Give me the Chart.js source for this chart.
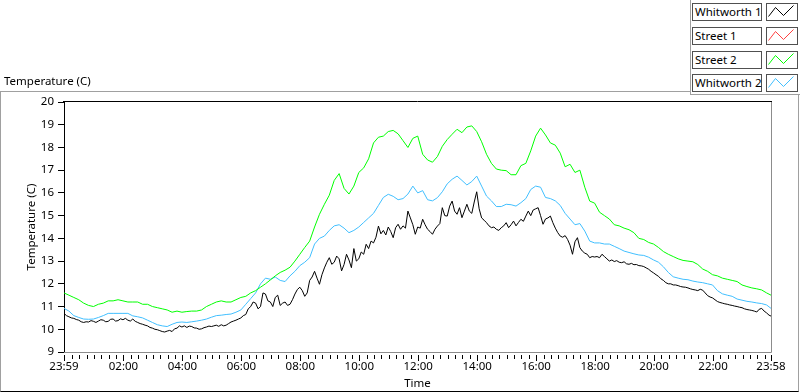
<!DOCTYPE html>
<html>
<head>
    <title>Temperature (C)</title>
    <script src="https://cdn.jsdelivr.net/npm/chart.js"></script>
    <style>
        body { margin: 0; background: #fff; font-family: 'Noto Sans', sans-serif; }
        #wrap { position: relative; width: 800px; height: 392px; overflow: hidden; }
        #panel { position: absolute; left: 0; top: 91px; width: 797px; height: 299px;
                 border-left: 1px solid #a0a0a0; border-top: 1px solid #a0a0a0;
                 border-right: 1px solid #a0a0a0; border-bottom: 1px solid #000; }
        #chart { position: absolute; left: 0; top: 0; }
        #legendPanel { position: absolute; left: 690px; top: 0; width: 110px; height: 95px; background: #fff;
                       border-left: 1px solid #a0a0a0; border-bottom: 1px solid #a0a0a0; box-sizing: border-box; }
        .name { position: absolute; left: 692px; width: 70px; height: 18px; box-sizing: border-box;
                border: 1px solid #505050; font-size: 11.5px; line-height: 16px; padding-left: 2px; color: #000; white-space: nowrap; }
        .glyph { position: absolute; left: 766px; width: 32px; height: 18px; box-sizing: border-box;
                 border: 1px solid #505050; background: #fff; }
        .glyph svg { position: absolute; left: 0; top: 0; }
        #title { position: absolute; left: 4px; top: 73px; font-size: 11.5px; color: #000; }
    </style>
</head>
<body>
<div id="wrap">
    <div id="panel"></div>
    <canvas id="chart" width="800" height="392"></canvas>
    <div id="legendPanel"></div>
    <div id="legend"></div>
    <div id="title">Temperature (C)</div>
</div>

<script>
    // logged readings, first one at 23:59
    var stepWhitworth1 = 5;   // minutes between readings
    var stepOthers = 10;
    var seriesNames = ['Whitworth 1', 'Street 1', 'Street 2', 'Whitworth 2'];
    var xTickLabels = ['23:59', '02:00', '04:00', '06:00', '08:00', '10:00', '12:00',
                       '14:00', '16:00', '18:00', '20:00', '22:00', '23:58'];

    var whitworth1 = [
        10.7, 10.6, 10.55, 10.5, 10.48, 10.43, 10.4, 10.33, 10.3, 10.33, 10.32, 10.38,
        10.35, 10.3, 10.36, 10.42, 10.4, 10.33, 10.35, 10.44, 10.45, 10.36, 10.38, 10.46,
        10.42, 10.48, 10.4, 10.36, 10.45, 10.35, 10.3, 10.25, 10.22, 10.18, 10.15, 10.08,
        10.05, 10.0, 9.98, 9.94, 9.9, 9.88, 9.92, 9.95, 9.9, 10.02, 10.05, 10.15,
        10.1, 10.15, 10.08, 10.14, 10.12, 10.06, 10.05, 10.0, 10.02, 10.07, 10.1, 10.14,
        10.12, 10.15, 10.18, 10.13, 10.2, 10.15, 10.18, 10.25, 10.32, 10.36, 10.4, 10.45,
        10.5, 10.6, 10.65, 10.9, 11.0, 11.2, 11.15, 10.9, 11.0, 11.6, 11.55, 11.25,
        11.2, 11.0, 11.4, 11.5, 11.05, 11.15, 11.2, 11.05, 11.1, 11.3, 11.55, 11.75,
        11.85, 11.7, 11.45, 11.6, 12.15, 12.3, 12.55, 12.25, 11.98, 12.4, 12.7, 12.95,
        13.15, 12.86, 12.95, 13.22, 13.1, 12.57, 12.85, 13.3, 13.05, 12.71, 13.55, 13.0,
        13.1, 13.4, 13.3, 13.74, 13.55, 13.88, 13.8, 14.05, 14.54, 14.2, 14.35, 14.15,
        14.5, 14.3, 14.03, 14.47, 14.62, 14.4, 14.55, 14.45, 15.2, 14.9, 14.6, 14.18,
        14.5, 14.45, 14.84, 14.6, 14.4, 14.3, 14.18, 14.4, 14.54, 14.65, 15.35, 15.0,
        14.98, 15.42, 15.64, 15.2, 15.06, 15.35, 14.91, 15.2, 15.5, 15.2, 15.1, 15.6,
        16.05, 15.3, 14.9, 14.8, 14.69, 14.55, 14.47, 14.5, 14.4, 14.35, 14.47, 14.55,
        14.69, 14.47, 14.6, 14.76, 14.55, 14.7, 14.84, 14.75, 14.98, 15.2, 15.0, 15.25,
        15.3, 15.35, 15.0, 14.62, 14.85, 14.9, 14.98, 14.69, 14.45, 14.25, 14.1, 14.05,
        14.12, 13.95, 13.7, 13.3, 13.85, 14.03, 13.59, 13.44, 13.35, 13.3, 13.15, 13.2,
        13.18, 13.2, 13.15, 13.3, 13.2, 13.1, 13.0, 13.05, 12.98, 13.02, 12.95, 12.93,
        12.97, 12.88, 12.86, 12.9, 12.84, 12.85, 12.8, 12.79, 12.76, 12.7, 12.64, 12.55,
        12.48, 12.4, 12.33, 12.22, 12.15, 12.05, 12.0, 12.0, 11.95, 11.95, 11.92, 11.88,
        11.86, 11.85, 11.82, 11.78, 11.75, 11.73, 11.7, 11.76, 11.72, 11.6, 11.48, 11.42,
        11.38, 11.3, 11.22, 11.18, 11.15, 11.12, 11.1, 11.07, 11.05, 11.02, 11.0, 10.97,
        10.95, 10.9, 10.87, 10.85, 10.83, 10.8, 10.76, 10.88, 10.92, 10.8, 10.72, 10.62,
        10.58
    ];
    var street1 = [];
    var street2 = [
        11.6, 11.5, 11.4, 11.3, 11.15, 11.05, 11.0, 11.1, 11.15, 11.25, 11.25, 11.3,
        11.25, 11.2, 11.2, 11.2, 11.1, 11.1, 11.0, 10.95, 10.9, 10.85, 10.75, 10.8,
        10.75, 10.78, 10.8, 10.8, 10.85, 11.0, 11.1, 11.2, 11.25, 11.2, 11.2, 11.3,
        11.4, 11.45, 11.6, 11.7, 11.85, 12.0, 12.17, 12.35, 12.5, 12.6, 12.73, 13.0,
        13.3, 13.6, 13.88, 14.5, 15.06, 15.5, 15.9, 16.55, 16.85, 16.2, 15.95, 16.3,
        16.9, 17.1, 17.5, 18.2, 18.45, 18.5, 18.7, 18.75, 18.6, 18.3, 18.0, 18.4,
        18.5, 17.7, 17.45, 17.35, 17.6, 18.05, 18.35, 18.58, 18.8, 18.65, 18.9, 18.95,
        18.7, 18.25, 17.7, 17.3, 17.05, 17.0, 16.98, 16.8, 16.8, 17.2, 17.3, 17.85,
        18.5, 18.85, 18.55, 18.2, 18.1, 17.75, 17.15, 17.26, 16.9, 17.0, 16.25, 15.64,
        15.55, 15.15, 15.0, 14.85, 14.6, 14.55, 14.45, 14.38, 14.25, 14.0, 13.95, 13.82,
        13.75, 13.6, 13.42, 13.3, 13.2, 13.1, 13.03, 13.0, 12.97, 12.85, 12.65, 12.55,
        12.4, 12.35, 12.25, 12.2, 12.15, 12.1, 11.95, 11.88, 11.82, 11.78, 11.73, 11.6,
        11.5
    ];
    var whitworth2 = [
        10.92, 10.8, 10.6, 10.52, 10.45, 10.44, 10.45, 10.52, 10.6, 10.7, 10.7, 10.7,
        10.7, 10.7, 10.59, 10.55, 10.5, 10.4, 10.3, 10.2, 10.15, 10.12, 10.22, 10.3,
        10.32, 10.3, 10.33, 10.36, 10.4, 10.45, 10.53, 10.6, 10.62, 10.65, 10.67, 10.75,
        10.85, 11.1, 11.35, 11.6, 12.0, 12.25, 12.2, 12.3, 12.15, 12.1, 12.35, 12.55,
        12.8, 12.95, 13.15, 13.75, 14.0, 14.1, 14.35, 14.55, 14.6, 14.45, 14.25, 14.35,
        14.5, 14.7, 14.9, 15.1, 15.45, 15.8, 15.94, 15.85, 15.7, 15.75, 15.95, 16.3,
        16.0, 16.1, 15.7, 15.65, 15.79, 16.05, 16.4, 16.6, 16.74, 16.55, 16.35, 16.5,
        16.74, 16.3, 15.86, 15.65, 15.4, 15.4, 15.5, 15.48, 15.42, 15.57, 15.75, 16.15,
        16.3, 16.25, 15.8, 15.75, 15.65, 15.45, 15.1, 14.85, 14.6, 14.65, 14.32, 13.88,
        13.8, 13.8, 13.75, 13.75, 13.65, 13.55, 13.44, 13.38, 13.32, 13.27, 13.25, 13.17,
        13.05, 12.95, 12.75, 12.5, 12.31, 12.25, 12.2, 12.18, 12.12, 12.08, 12.05, 12.0,
        11.95, 11.7, 11.56, 11.5, 11.45, 11.33, 11.28, 11.23, 11.2, 11.16, 11.13, 11.07,
        10.92
    ];

    var seriesColors = ['#000000', '#ff4040', '#00ff00', '#40bfff'];
    var seriesData = [whitworth1, street1, street2, whitworth2];
    var seriesSteps = [stepWhitworth1, stepOthers, stepOthers, stepOthers];

    var START = 23 * 60 + 59;
    var END_MIN = 1439;

    function toMinutes(label) {
        var p = label.split(':');
        return ((+p[0] * 60 + +p[1]) - START + 1440) % 1440;
    }
    var majorTicks = xTickLabels.map(toMinutes);
    majorTicks[majorTicks.length - 1] = END_MIN;

    function points(arr, step) {
        return arr.map(function (v, i) { return { x: Math.min(i * step, END_MIN), y: v }; });
    }

    // legend (html)
    var legend = document.getElementById('legend');
    var rowTops = [3, 27, 51, 74];
    seriesNames.forEach(function (name, i) {
        var n = document.createElement('div');
        n.className = 'name';
        n.style.top = rowTops[i] + 'px';
        n.textContent = name;
        legend.appendChild(n);
        var g = document.createElement('div');
        g.className = 'glyph';
        g.style.top = rowTops[i] + 'px';
        g.innerHTML = '<svg width="30" height="16"><polyline points="1.5,12.5 8.5,3.5 16.5,11.5 26.5,1.5" fill="none" stroke="' +
            seriesColors[i] + '" stroke-width="1"/></svg>';
        legend.appendChild(g);
    });

    // plot frame + x minor/major tick marks
    var frameTicks = {
        id: 'frameTicks',
        afterDraw: function (chart) {
            var ctx = chart.ctx, a = chart.chartArea, xs = chart.scales.x;
            ctx.save();
            ctx.lineWidth = 1;
            ctx.strokeStyle = '#000';
            ctx.beginPath();
            ctx.moveTo(a.left - 1, a.top - 0.5);
            ctx.lineTo(a.right + 1, a.top - 0.5);
            ctx.stroke();
            ctx.strokeStyle = '#8c8c8c';
            ctx.beginPath();
            ctx.moveTo(a.right + 0.5, a.top);
            ctx.lineTo(a.right + 0.5, a.bottom + 0.5);
            ctx.lineTo(a.left, a.bottom + 0.5);
            ctx.stroke();

            ctx.strokeStyle = '#000';
            ctx.beginPath();
            for (var k = 0; k < 96; k++) {
                var t = 1 + k * 15;
                var px = Math.round(xs.getPixelForValue(t)) + 0.5;
                var len = (k % 8 === 0) ? 6 : 4;
                ctx.moveTo(px, a.bottom + 3);
                ctx.lineTo(px, a.bottom + 3 + len);
            }
            majorTicks.forEach(function (t) {
                var px = Math.round(xs.getPixelForValue(t)) + 0.5;
                ctx.moveTo(px, a.bottom + 3);
                ctx.lineTo(px, a.bottom + 9);
            });
            ctx.stroke();
            ctx.restore();
        }
    };

    Chart.defaults.font.family = "'Noto Sans', sans-serif";
    Chart.defaults.font.size = 11.5;
    Chart.defaults.color = '#000';

    var ctx = document.getElementById('chart').getContext('2d');
    var chart = new Chart(ctx, {
        type: 'line',
        data: {
            datasets: seriesNames.map(function (name, i) {
                return {
                    label: name,
                    data: points(seriesData[i], seriesSteps[i]),
                    borderColor: seriesColors[i],
                    backgroundColor: seriesColors[i],
                    borderWidth: 1,
                    pointRadius: 0,
                    tension: 0,
                    fill: false
                };
            })
        },
        options: {
            responsive: false,
            animation: false,
            devicePixelRatio: 1,
            layout: { padding: { top: 102, right: 29, left: 0, bottom: 0 } },
            plugins: { legend: { display: false }, tooltip: { enabled: false } },
            scales: {
                x: {
                    type: 'linear',
                    min: 0,
                    max: END_MIN,
                    afterBuildTicks: function (scale) {
                        scale.ticks = majorTicks.map(function (v) { return { value: v }; });
                    },
                    afterFit: function (scale) { scale.height = 40; },
                    ticks: {
                        autoSkip: false,
                        maxRotation: 0,
                        padding: 0,
                        callback: function (v) {
                            var idx = majorTicks.indexOf(v);
                            return idx >= 0 ? xTickLabels[idx] : '';
                        }
                    },
                    grid: { display: false },
                    border: { display: false },
                    title: { display: true, text: 'Time', padding: { top: 0, bottom: 1 } }
                },
                y: {
                    min: 9,
                    max: 20,
                    afterFit: function (scale) { scale.width = 64; },
                    ticks: { stepSize: 1, padding: 4 },
                    grid: { drawOnChartArea: false, drawTicks: true, tickLength: 6, tickColor: '#000' },
                    border: { display: true, color: '#000', width: 1 },
                    title: { display: true, text: 'Temperature (C)', padding: { top: 25, bottom: 0 } }
                }
            }
        },
        plugins: [frameTicks]
    });
</script>
</body>
</html>
